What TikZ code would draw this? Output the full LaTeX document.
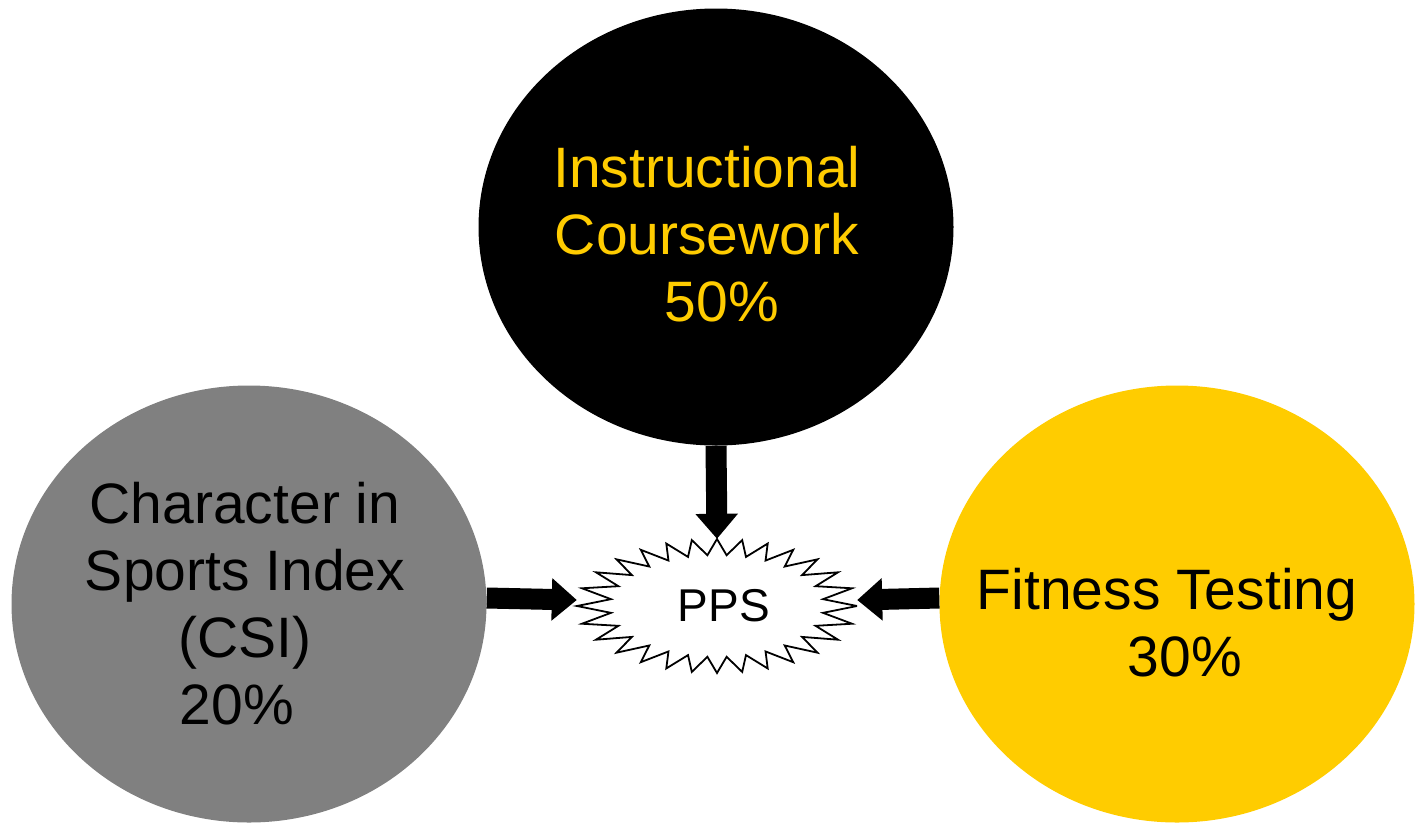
\documentclass[tikz,border=0pt]{standalone}
\usepackage{fontspec}
\setmainfont{Liberation Sans}
\usetikzlibrary{arrows.meta,shapes.geometric}
\definecolor{ppsyellow}{HTML}{FFCC00}
\definecolor{ppsgray}{HTML}{808080}
\definecolor{ppsyellowtext}{HTML}{FFCC00}
\begin{document}
\begin{tikzpicture}[x=1pt,y=-1pt,
  blob/.style={ellipse,minimum width=475pt,minimum height=437pt,inner sep=0pt,draw=none},
  bigtext/.style={font=\fontsize{57}{67}\selectfont,align=center},
  fatarrow/.style={line width=21pt,-{Triangle[length=25pt,width=41pt]}}]
\useasboundingbox (0,0) rectangle (1419,825);
% ellipses
\node[blob,fill=black] (course) at (716,227) {};
\node[blob,fill=ppsgray] (csi) at (249,604) {};
\node[blob,fill=ppsyellow] (fit) at (1177,604) {};
% texts
\node[bigtext,text=ppsyellowtext] (coursetext) at (707,234) {Instructional\\Coursework\\\hspace*{30pt}50\%};
\node[bigtext,text=black] (csitext) at (245,604) {Character in\\Sports Index\\(CSI)\\20\%\hspace*{16pt}};
\node[bigtext,text=black] (fittext) at (1167,623) {Fitness Testing\\\hspace*{36pt}30\%};
% starburst
\node[ellipse,minimum width=280pt,minimum height=134pt,inner sep=0pt] (pps) at (717,606) {};
\draw[line width=1.8pt,fill=white,line join=miter]
  (857,606) \foreach \k in {0,2,...,54}{
    -- ({717+107*cos((\k+1)*6.428571+5.73*sin(2*((\k+1)*6.428571)))},{606+51*sin((\k+1)*6.428571+5.73*sin(2*((\k+1)*6.428571)))})
    -- ({717+140*cos((\k+2)*6.428571+5.73*sin(2*((\k+2)*6.428571)))},{606+67*sin((\k+2)*6.428571+5.73*sin(2*((\k+2)*6.428571)))}) } -- cycle;
\node[font=\fontsize{46}{50}\selectfont] (ppstext) at (724,606) {PPS};
% arrows
\draw[fatarrow] (course.south) -- (pps.north);
\draw[fatarrow] ([yshift=6pt]csi.east) -- ([yshift=6pt]pps.west);
\draw[fatarrow] ([yshift=6pt]fit.west) -- ([yshift=6pt]pps.east);
\end{tikzpicture}
\end{document}
